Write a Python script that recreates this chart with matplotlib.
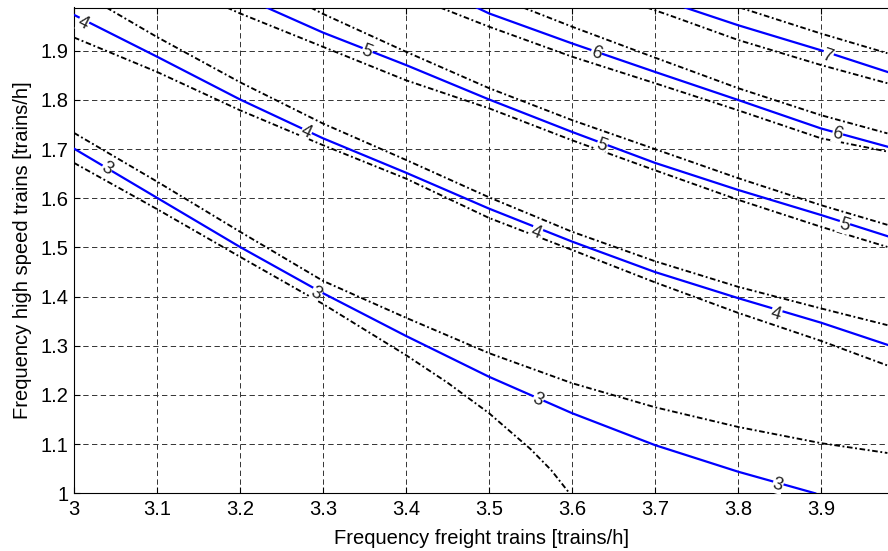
import numpy as np
import matplotlib
matplotlib.use('Agg')
import matplotlib.pyplot as plt

plt.rcParams['font.family'] = ['Liberation Sans', 'DejaVu Sans']

# contour lines (blue = level, black dash-dot = bounds)
x3 = [3.0, 3.1, 3.2, 3.3, 3.4, 3.5, 3.6, 3.7, 3.8, 3.893]
y3 = [1.701, 1.601, 1.501, 1.407, 1.320, 1.237, 1.163, 1.098, 1.044, 1.0]
x3_hi = [3.0, 3.1, 3.2, 3.3, 3.4, 3.5, 3.6, 3.7, 3.8, 3.9, 3.98]
y3_hi = [1.733, 1.634, 1.532, 1.432, 1.357, 1.285, 1.224, 1.175, 1.135, 1.102, 1.082]
x3_lo = [3.0, 3.1, 3.2, 3.3, 3.4, 3.45, 3.5, 3.55, 3.575, 3.597]
y3_lo = [1.672, 1.578, 1.481, 1.385, 1.281, 1.225, 1.163, 1.090, 1.047, 1.0]

x4 = [3.0, 3.1, 3.2, 3.3, 3.4, 3.5, 3.6, 3.7, 3.8, 3.9, 3.98]
y4 = [1.973, 1.888, 1.801, 1.722, 1.652, 1.579, 1.512, 1.450, 1.397, 1.347, 1.302]
x4_hi = [3.039, 3.1, 3.2, 3.3, 3.4, 3.5, 3.6, 3.7, 3.8, 3.9, 3.98]
y4_hi = [1.988, 1.928, 1.836, 1.752, 1.678, 1.602, 1.532, 1.472, 1.420, 1.376, 1.342]
x4_lo = [3.0, 3.1, 3.2, 3.3, 3.4, 3.5, 3.6, 3.7, 3.8, 3.9, 3.98]
y4_lo = [1.927, 1.857, 1.779, 1.708, 1.640, 1.560, 1.495, 1.429, 1.367, 1.310, 1.260]

x5 = [3.232, 3.3, 3.4, 3.5, 3.6, 3.7, 3.8, 3.9, 3.98]
y5 = [1.988, 1.937, 1.871, 1.801, 1.735, 1.672, 1.617, 1.566, 1.523]
x5_hi = [3.285, 3.3, 3.4, 3.5, 3.6, 3.7, 3.8, 3.9, 3.98]
y5_hi = [1.988, 1.975, 1.898, 1.824, 1.759, 1.700, 1.641, 1.586, 1.546]
x5_lo = [3.184, 3.2, 3.3, 3.4, 3.5, 3.6, 3.7, 3.8, 3.9, 3.98]
y5_lo = [1.988, 1.976, 1.908, 1.840, 1.783, 1.718, 1.657, 1.597, 1.542, 1.501]

x6 = [3.485, 3.5, 3.6, 3.7, 3.8, 3.9, 3.98]
y6 = [1.988, 1.976, 1.915, 1.857, 1.800, 1.742, 1.705]
x6_hi = [3.541, 3.6, 3.7, 3.8, 3.9, 3.98]
y6_hi = [1.988, 1.949, 1.886, 1.824, 1.769, 1.732]
x6_lo = [3.441, 3.5, 3.6, 3.7, 3.8, 3.9, 3.98]
y6_lo = [1.988, 1.949, 1.888, 1.834, 1.779, 1.722, 1.695]

x7 = [3.736, 3.8, 3.9, 3.98]
y7 = [1.988, 1.952, 1.901, 1.857]
x7_hi = [3.802, 3.9, 3.98]
y7_hi = [1.988, 1.935, 1.895]
x7_lo = [3.69, 3.716, 3.8, 3.9, 3.98]
y7_lo = [1.988, 1.973, 1.922, 1.871, 1.834]

# label positions on the blue lines
lab3 = [(3.040, 1.661), (3.292, 1.407), (3.559, 1.190), (3.848, 1.017)]
lab4 = [(3.011, 1.957), (3.280, 1.735), (3.557, 1.530), (3.846, 1.365)]
lab5 = [(3.353, 1.898), (3.636, 1.708), (3.928, 1.546)]
lab6 = [(3.629, 1.895), (3.920, 1.731)]
lab7 = [(3.908, 1.889)]

levels = {
    3: (x3, y3, x3_hi, y3_hi, x3_lo, y3_lo, lab3),
    4: (x4, y4, x4_hi, y4_hi, x4_lo, y4_lo, lab4),
    5: (x5, y5, x5_hi, y5_hi, x5_lo, y5_lo, lab5),
    6: (x6, y6, x6_hi, y6_hi, x6_lo, y6_lo, lab6),
    7: (x7, y7, x7_hi, y7_hi, x7_lo, y7_lo, lab7),
}

fig = plt.figure(figsize=(8.88, 5.51), dpi=100)
ax = fig.add_axes([74 / 888, 1 - 493.3 / 551, 814 / 888, 485.8 / 551])

dashdot = (0, (3.0, 1.4, 1.0, 1.4))
for lev, (xb, yb, xh, yh, xl, yl, labs) in levels.items():
    ax.plot(xh, yh, color='black', linestyle=dashdot, linewidth=1.35, zorder=3)
    ax.plot(xl, yl, color='black', linestyle=dashdot, linewidth=1.35, zorder=3)
    ax.plot(xb, yb, color='#0000ff', linewidth=1.6, zorder=4)
    xa = np.array(xb)
    ya = np.array(yb)
    for lx, ly in labs:
        i = int(np.clip(np.searchsorted(xa, lx), 1, len(xa) - 1))
        slope = (ya[i] - ya[i - 1]) / (xa[i] - xa[i - 1])
        ang = np.degrees(np.arctan(slope))
        ax.text(lx, ly, str(lev), fontsize=13, color='#222222', ha='center', va='center',
                rotation=ang, rotation_mode='anchor', transform_rotates_text=True,
                bbox=dict(facecolor='white', edgecolor='none', pad=0.3), zorder=5)

ax.set_xlim(3, 3 + 814 / 830)
ax.set_ylim(1, 1.988)
ax.set_xticks(np.arange(3, 3.95, 0.1))
ax.set_xticklabels(['3', '3.1', '3.2', '3.3', '3.4', '3.5', '3.6', '3.7', '3.8', '3.9'])
ax.set_yticks(np.arange(1, 1.95, 0.1))
ax.set_yticklabels(['1', '1.1', '1.2', '1.3', '1.4', '1.5', '1.6', '1.7', '1.8', '1.9'])
ax.grid(True, color='#333333', linestyle=(0, (5.5, 3.5)), linewidth=0.7)
ax.set_axisbelow(True)
ax.tick_params(direction='in', length=4, top=True, right=False, labelsize=14.5)
ax.tick_params(axis='x', pad=5)
ax.tick_params(axis='y', pad=4)
ax.spines['right'].set_visible(False)

ax.set_xlabel('Frequency freight trains [trains/h]', fontsize=14.5, labelpad=7)
ax.set_ylabel('Frequency high speed trains [trains/h]', fontsize=14.5, labelpad=6)

fig.savefig('out.png', dpi=100)
